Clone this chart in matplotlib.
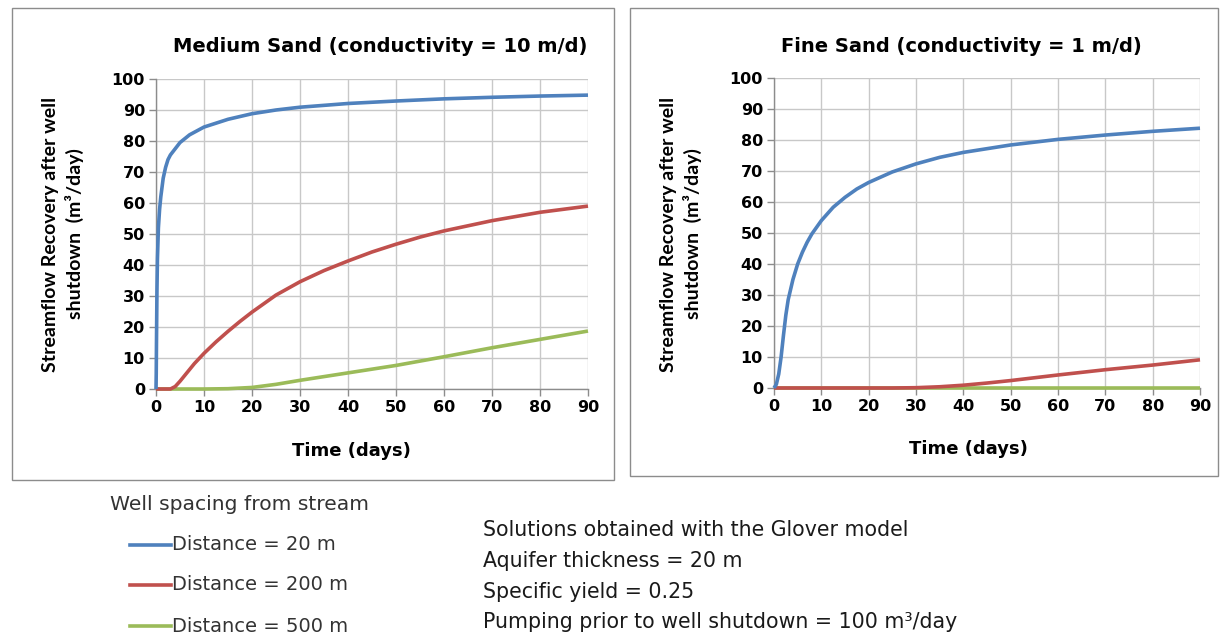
import matplotlib
matplotlib.use("Agg")
import matplotlib.pyplot as plt
from matplotlib.lines import Line2D
from matplotlib.patches import Rectangle

# ---------------- data ----------------
# Medium sand (K = 10 m/d)
med_t_20 = [0, 0.05, 0.1, 0.2, 0.3, 0.5, 0.75, 1, 1.5, 2, 2.5, 3, 4, 5, 7, 10, 15, 20, 25, 30, 40, 50, 60, 70, 80, 90]
med_q_20 = [0, 5, 15, 32, 42, 52, 58, 62, 68, 71.5, 74, 75.5, 77.5, 79.5, 82, 84.5, 87, 88.8, 90, 90.9, 92.1, 92.9, 93.6, 94.1, 94.5, 94.8]

med_t_200 = [0, 3, 4, 5, 6, 7, 8, 10, 12.5, 15, 17.5, 20, 25, 30, 35, 40, 45, 50, 55, 60, 70, 80, 90]
med_q_200 = [0, 0, 0.8, 2.5, 4.4, 6.3, 8.2, 11.5, 15.2, 18.6, 21.8, 24.8, 30.3, 34.6, 38.2, 41.3, 44.2, 46.7, 49, 51, 54.3, 57, 59]

med_t_500 = [0, 10, 15, 20, 25, 30, 35, 40, 50, 60, 70, 80, 90]
med_q_500 = [0, 0, 0.1, 0.5, 1.5, 2.8, 4.0, 5.2, 7.6, 10.4, 13.3, 16.0, 18.7]

# Fine sand (K = 1 m/d)
fine_t_20 = [0, 0.5, 1, 1.5, 2, 2.5, 3, 4, 5, 6, 7, 8, 10, 12.5, 15, 17.5, 20, 25, 30, 35, 40, 50, 60, 70, 80, 90]
fine_q_20 = [0, 1.2, 4.5, 10, 17, 23.5, 28.5, 35, 40, 43.8, 47, 49.7, 54, 58.3, 61.5, 64.2, 66.3, 69.7, 72.3, 74.4, 76, 78.4, 80.2, 81.6, 82.8, 83.8]

fine_t_200 = [0, 20, 25, 30, 35, 40, 45, 50, 60, 70, 80, 90]
fine_q_200 = [0, 0, 0, 0.1, 0.4, 0.9, 1.6, 2.4, 4.2, 5.9, 7.4, 9.1]

fine_t_500 = [0, 30, 60, 90]
fine_q_500 = [0, 0, 0, 0]

legend_labels = ["Distance = 20 m", "Distance = 200 m", "Distance = 500 m"]
colors = ["#4F81BD", "#C0504D", "#9BBB59"]
x_ticks = list(range(0, 91, 10))
y_ticks = list(range(0, 101, 10))

titles = ["Medium Sand (conductivity = 10 m/d)", "Fine Sand (conductivity = 1 m/d)"]
ylabel_text = "Streamflow Recovery after well\nshutdown  (m³/day)"
xlabel_text = "Time (days)"
info_lines = ["Solutions obtained with the Glover model",
              "Aquifer thickness = 20 m",
              "Specific yield = 0.25",
              "Pumping prior to well shutdown = 100 m³/day"]
legend_title = "Well spacing from stream"

# ---------------- figure ----------------
W, H = 1221, 635
plt.rcParams['font.family'] = ['Lato', 'DejaVu Sans']
WIDE = ['DejaVu Sans', 'Lato']
fig = plt.figure(figsize=(W / 100, H / 100), dpi=100)
fig.patch.set_facecolor("white")

def fx(px):
    return px / W

def fy(py):
    return 1 - py / H

# panel boxes
for (x0, y0, x1, y1) in [(12, 8, 614, 480), (630, 8, 1218, 476)]:
    fig.add_artist(Rectangle((fx(x0), fy(y1)), fx(x1) - fx(x0), fy(y0) - fy(y1),
                             transform=fig.transFigure, fill=False,
                             edgecolor="#8C8C8C", linewidth=1.0))

axes_px = [(156, 79, 588, 389), (774, 78, 1200, 388)]
series = [
    [(med_t_20, med_q_20), (med_t_200, med_q_200), (med_t_500, med_q_500)],
    [(fine_t_20, fine_q_20), (fine_t_200, fine_q_200), (fine_t_500, fine_q_500)],
]
title_pos = [(380, 47), (961, 46)]
ylabel_pos = [(63, 234), (681, 234)]
xlabel_pos = [(351, 451), (968, 449)]

for i, (l, t, r, b) in enumerate(axes_px):
    ax = fig.add_axes([fx(l), fy(b), fx(r) - fx(l), fy(t) - fy(b)])
    for j in [2, 1, 0]:
        tt, qq = series[i][j]
        ax.plot(tt, qq, color=colors[j], linewidth=2.6, clip_on=False,
                solid_capstyle="butt", solid_joinstyle="round", zorder=3 + (2 - j))
    ax.set_xlim(0, 90)
    ax.set_ylim(0, 100)
    ax.set_xticks(x_ticks)
    ax.set_yticks(y_ticks)
    ax.grid(True, color="#C8C8C8", linewidth=1.0)
    ax.set_axisbelow(True)
    for s in ["top", "right"]:
        ax.spines[s].set_visible(False)
    for s in ["left", "bottom"]:
        ax.spines[s].set_color("#8C8C8C")
        ax.spines[s].set_linewidth(1.0)
    ax.tick_params(axis="both", direction="out", length=5, width=1.0,
                   color="#8C8C8C", pad=3)
    for lab in ax.get_xticklabels() + ax.get_yticklabels():
        lab.set_fontweight("bold")
        lab.set_color("black")
        lab.set_fontsize(11.5)
        lab.set_family(WIDE)
    fig.text(fx(title_pos[i][0]), fy(title_pos[i][1]), titles[i], ha="center", va="center",
             fontsize=14, fontweight="bold", family=WIDE)
    fig.text(fx(ylabel_pos[i][0]), fy(ylabel_pos[i][1]), ylabel_text, ha="center", va="center",
             rotation=90, fontsize=14, fontweight="bold", linespacing=1.4, multialignment="center")
    fig.text(fx(xlabel_pos[i][0]), fy(xlabel_pos[i][1]), xlabel_text, ha="center", va="center",
             fontsize=13, fontweight="bold", family=WIDE)

# legend (manual)
fig.text(fx(110), fy(505), legend_title, ha="left", va="center", fontsize=14.6, color="#333333", family=WIDE)
for k, (lab, c) in enumerate(zip(legend_labels, colors)):
    yy = [545, 585, 626][k]
    fig.add_artist(Line2D([fx(130), fx(171)], [fy(yy), fy(yy)], transform=fig.transFigure,
                          color=c, linewidth=2.6))
    fig.text(fx(172), fy(yy), lab, ha="left", va="center", fontsize=14, color="#333333", family=WIDE)

for k, line in enumerate(info_lines):
    yy = [530, 561, 592, 622][k]
    fig.text(fx(483), fy(yy), line, ha="left", va="center", fontsize=14.8, color="#1a1a1a", family=WIDE)

fig.savefig("out.png", dpi=100)
